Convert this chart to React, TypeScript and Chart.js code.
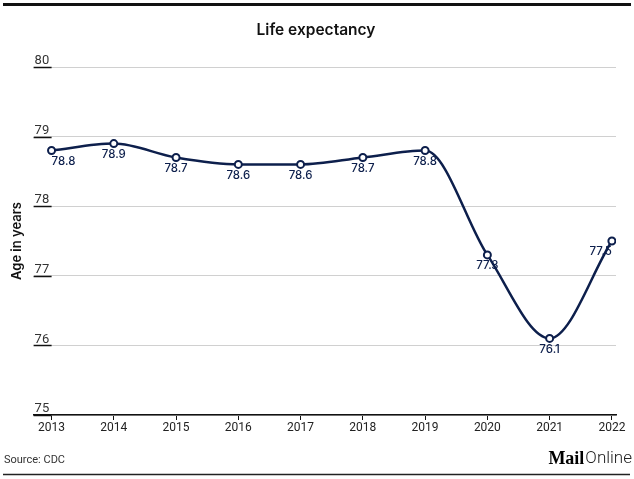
import React, { useEffect, useRef } from "react";
import { Chart, registerables } from "chart.js";

Chart.register(...registerables);

const years = [2013, 2014, 2015, 2016, 2017, 2018, 2019, 2020, 2021, 2022];
const lifeExpectancy = [78.8, 78.9, 78.7, 78.6, 78.6, 78.7, 78.8, 77.3, 76.1, 77.5];
const yTicks = [75, 76, 77, 78, 79, 80];

const NAVY = "#0d1f4c";

const decorPlugin = {
  id: "decor",
  beforeDraw(chart: any) {
    const ctx = chart.ctx;
    ctx.save();
    ctx.fillStyle = "#ffffff";
    ctx.fillRect(0, 0, chart.width, chart.height);
    ctx.fillStyle = "#111111";
    ctx.fillRect(3, 3, 628, 3);
    ctx.restore();
  },
  afterDraw(chart: any) {
    const ctx = chart.ctx;
    const { left } = chart.chartArea;
    const y = chart.scales.y;
    ctx.save();
    ctx.strokeStyle = "#111111";
    ctx.lineWidth = 1.5;
    y.ticks.forEach((t: any) => {
      const py = Math.round(y.getPixelForValue(t.value)) + 0.5;
      ctx.beginPath();
      ctx.moveTo(left, py);
      ctx.lineTo(left + 18, py);
      ctx.stroke();
    });
    ctx.fillStyle = "#111111";
    ctx.font = "600 15.5px Inter";
    ctx.textAlign = "center";
    ctx.textBaseline = "middle";
    ctx.fillText("Life expectancy", 316, 30);
    ctx.font = "11px Roboto";
    ctx.fillStyle = "#333333";
    ctx.textAlign = "left";
    ctx.fillText("Source: CDC", 4, 460);
    ctx.textAlign = "right";
    ctx.font = "300 17px Roboto";
    ctx.fillStyle = "#222222";
    ctx.fillText("Online", 632, 459);
    const w = ctx.measureText("Online").width;
    ctx.font = "bold 18px 'Liberation Serif'";
    ctx.fillStyle = "#000000";
    ctx.fillText("Mail", 632 - w - 1, 459);
    ctx.strokeStyle = "#222222";
    ctx.lineWidth = 1.5;
    ctx.beginPath();
    ctx.moveTo(3, 474.5);
    ctx.lineTo(630, 474.5);
    ctx.stroke();
    ctx.restore();
  },
  afterDatasetsDraw(chart: any) {
    const ctx = chart.ctx;
    const meta = chart.getDatasetMeta(0);
    const data = chart.data.datasets[0].data as any[];
    ctx.save();
    ctx.font = "500 11.5px Inter";
    ctx.fillStyle = NAVY;
    ctx.textBaseline = "middle";
    meta.data.forEach((pt: any, i: number) => {
      ctx.textAlign = i === 0 ? "left" : i === meta.data.length - 1 ? "right" : "center";
      ctx.fillText(data[i].y.toFixed(1), pt.x, pt.y + 11);
    });
    ctx.restore();
  },
};

export default function App() {
  const ref = useRef<HTMLCanvasElement | null>(null);
  useEffect(() => {
    document.body.style.margin = "0";
    if (!ref.current) return;
    const chart = new Chart(ref.current, {
      type: "line",
      data: {
        datasets: [
          {
            data: years.map((x, i) => ({ x, y: lifeExpectancy[i] })),
            borderColor: NAVY,
            borderWidth: 2.5,
            cubicInterpolationMode: "monotone",
            pointRadius: 3.5,
            pointBorderWidth: 2,
            pointBackgroundColor: "#ffffff",
            pointBorderColor: NAVY,
            fill: false,
          },
        ],
      },
      plugins: [decorPlugin],
      options: {
        responsive: false,
        animation: false,
        layout: { padding: { top: 67, left: 4, right: 18, bottom: 42.6 } },
        plugins: {
          legend: { display: false },
          title: { display: false },
          tooltip: { enabled: false },
        },
        scales: {
          x: {
            type: "linear",
            min: 2012.712,
            max: 2022.066,
            grid: {
              display: true,
              drawOnChartArea: false,
              drawTicks: true,
              tickLength: 5,
              color: "#111111",
            },
            border: { display: true, color: "#111111", width: 1.5 },
            ticks: {
              stepSize: 1,
              includeBounds: false,
              autoSkip: false,
              maxRotation: 0,
              padding: 1,
              color: "#222222",
              font: { family: "Roboto", size: 12 },
              callback: (v: any) => String(v),
            },
          },
          y: {
            min: yTicks[0],
            max: yTicks[yTicks.length - 1],
            afterBuildTicks: (scale: any) => {
              scale.ticks = yTicks.map((v) => ({ value: v }));
            },
            grid: { color: "#d0d0d0", lineWidth: 1, drawTicks: false },
            border: { display: false },
            ticks: {
              mirror: true,
              labelOffset: -6,
              padding: 1,
              color: "#333333",
              font: { family: "Roboto", size: 13 },
            },
            title: {
              display: true,
              text: "Age in years",
              color: "#111111",
              font: { family: "Inter", size: 13, weight: 600 },
              padding: { top: 5, bottom: 7 },
            },
          },
        },
      },
    } as any);
    return () => chart.destroy();
  }, []);
  return <canvas ref={ref} width={634} height={479} style={{ display: "block" }} />;
}
